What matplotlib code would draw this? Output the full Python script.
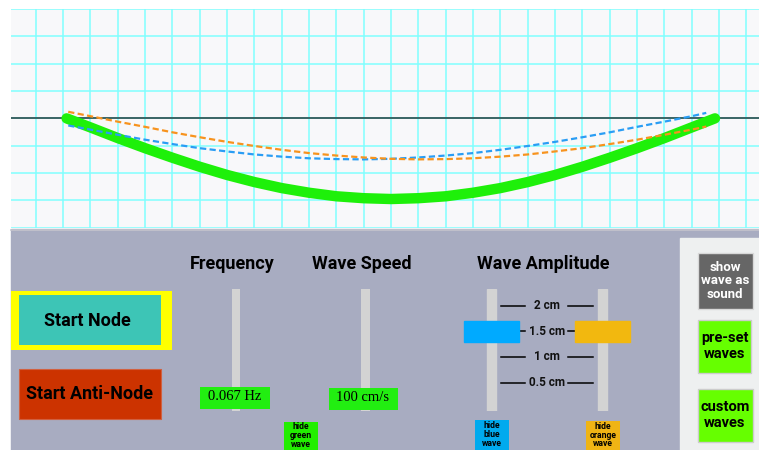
import matplotlib.pyplot as plt
from matplotlib.patches import Rectangle

# === Wave shapes on the grid (cm) ===
green_x = [1.13, 2, 3, 4, 5, 6, 7, 8, 9, 10, 11, 12, 13,
           14, 15, 16, 17, 18, 19, 20, 21, 22, 23, 24, 24.85]
green_y = [0.0, -0.33, -0.72, -1.09, -1.44, -1.77, -2.07, -2.33, -2.55, -2.72, -2.85, -2.92, -2.95,
           -2.92, -2.85, -2.72, -2.55, -2.33, -2.07, -1.77, -1.44, -1.09, -0.72, -0.33, 0.0]

dash_x = [1.19, 2, 3, 4, 5, 6, 7, 8, 9, 10, 11, 12, 13,
          14, 15, 16, 17, 18, 19, 20, 21, 22, 23, 24, 24.53]
blue_y = [-0.26, -0.41, -0.60, -0.78, -0.94, -1.09, -1.21, -1.32, -1.40, -1.46, -1.49, -1.50, -1.48,
          -1.43, -1.36, -1.27, -1.15, -1.01, -0.86, -0.69, -0.51, -0.31, -0.12, 0.08, 0.20]
orange_y = [0.24, 0.08, -0.12, -0.31, -0.51, -0.69, -0.86, -1.01, -1.15, -1.27, -1.36, -1.43, -1.48,
            -1.50, -1.49, -1.46, -1.40, -1.32, -1.21, -1.09, -0.94, -0.78, -0.60, -0.41, -0.30]

# === Control panel values ===
amp_ticks = [2, 1.5, 1, 0.5]
amp_labels = ["2 cm", "1.5 cm", "1 cm", "0.5 cm"]
blue_amp = 1.5
orange_amp = 1.5
freq_label = "0.067 Hz"
speed_label = "100 cm/s"

W, H = 759, 450
NARROW = ['Roboto', 'DejaVu Sans']
SERIF = ['Liberation Serif', 'DejaVu Serif']

fig = plt.figure(figsize=(W / 100, H / 100), dpi=100)
fig.patch.set_facecolor('white')


def px_axes(x0, y0, x1, y1):
    return fig.add_axes([x0 / W, 1 - y1 / H, (x1 - x0) / W, (y1 - y0) / H])


# === Panel / layout axes in pixel units ===
ui = px_axes(0, 0, W, H)
ui.set_xlim(0, W)
ui.set_ylim(H, 0)
ui.axis('off')

ui.add_patch(Rectangle((11, 229), W - 11, H - 229, color='#a8acc1', zorder=1))
ui.plot([11, W], [229.5, 229.5], color='#c4c4cc', lw=1.2, zorder=2)
ui.add_patch(Rectangle((680, 238), W - 680, H - 238, color='#eef0f0', zorder=2))


def box(x0, y0, x1, y1, fc, ec=None, lw=0):
    ui.add_patch(Rectangle((x0, y0), x1 - x0, y1 - y0, facecolor=fc,
                           edgecolor=ec if ec else fc, lw=lw, zorder=3))


def label(x, y, s, size, color='black', family=NARROW, weight='bold', ls=1.0):
    ui.text(x, y, s, ha='center', va='center', fontsize=size, color=color,
            family=family, fontweight=weight, linespacing=ls, zorder=5)


# start buttons
box(11, 290.5, 171.5, 350, '#ffff00')
box(18.5, 295, 160.5, 345, '#3dc5b6')
label(87, 321, "Start Node", 13)
box(18.5, 369, 160.5, 418.5, '#cc3300', ec='#d06040', lw=0.8)
label(90, 394, "Start Anti-Node", 13)

# headings
label(232.5, 264, "Frequency", 13)
label(362, 264, "Wave Speed", 13)
label(543, 264, "Wave Amplitude", 13)

# frequency and speed sliders
for tx in (231.5, 361):
    box(tx, 289, tx + 8.5, 410.5, '#d3d3d3')
box(200, 386.5, 269.5, 408.5, '#22ee11')
label(234.5, 396.5, freq_label, 10.5, family=SERIF, weight='normal')
box(328.5, 387.5, 397.5, 409.5, '#22ee11')
label(363, 397.5, speed_label, 10.5, family=SERIF, weight='normal')

# hide buttons
box(284, 422, 318, H, '#22ee00')
label(301, 435.5, "hide\ngreen\nwave", 6.2, ls=0.98)
box(474.5, 420, 508.5, H, '#00aaee')
label(491.5, 434.5, "hide\nblue\nwave", 6.2, ls=0.98)
box(586, 421, 619.5, H, '#f0b414')
label(603, 435, "hide\norange\nwave", 6.2, ls=0.98)

# right side buttons
box(697.5, 253, 752.5, 308.5, '#666666', ec='#d8d8d8', lw=1)
label(725, 281, "show\nwave as\nsound", 9.5, color='white', ls=1.05)
box(697.5, 319.5, 751, 372.5, '#66ff00', ec='#cccccc', lw=1)
label(724.5, 346, "pre-set\nwaves", 10.5, ls=1.1)
box(697.5, 388.5, 752.5, 442, '#66ff00', ec='#cccccc', lw=1)
label(725, 415, "custom\nwaves", 10.5, ls=1.1)

# === Amplitude sliders (y in cm) ===
amp = px_axes(460, 289, 635, 411)
amp.set_xlim(460, 635)
amp.set_ylim(-0.053, 2.324)
amp.axis('off')
amp.patch.set_alpha(0)
for tx in (486.7, 597.7):
    amp.add_patch(Rectangle((tx, -0.053), 9, 2.377, color='#d3d3d3', zorder=1))
for a, s in zip(amp_ticks, amp_labels):
    amp.plot([500.7, 525], [a, a], color='black', lw=1.1, zorder=2)
    amp.plot([568.3, 592.7], [a, a], color='black', lw=1.1, zorder=2)
    amp.text(546.7, a, s, ha='center', va='center', fontsize=8.5,
             family=NARROW, fontweight='bold', color='#111111', zorder=3)
amp.add_patch(Rectangle((464, blue_amp - 0.21), 55, 0.42, color='#00aaff', zorder=4))
amp.add_patch(Rectangle((575, orange_amp - 0.21), 54.5, 0.42, color='#f2b80f', zorder=4))

# === Wave grid ===
ax = px_axes(11, 9, W, 228)
ax.set_xlim(-0.904, 26.46)
ax.set_ylim(-4.01, 4.0)
ax.set_facecolor('#f8f8fa')
for s in ax.spines.values():
    s.set_visible(False)
ax.set_xticks([])
ax.set_yticks([])
for gx in range(0, 27):
    ax.axvline(gx, color='#80ffff', lw=1.1, zorder=1)
for gy in range(-4, 5):
    ax.axhline(gy, color='#80ffff', lw=1.1, zorder=1)
ax.axhline(0, color='#3b6464', lw=1.4, zorder=2)

ax.plot(green_x, green_y, color='#1ef00a', lw=7.5, solid_capstyle='round',
        solid_joinstyle='round', zorder=3)
ax.plot(dash_x, blue_y, color='#2a9df4', lw=1.6, dashes=(2.8, 1.5), zorder=4)
ax.plot(dash_x, orange_y, color='#f7931e', lw=1.6, dashes=(2.8, 1.5), zorder=4)

plt.savefig("out.png", dpi=100)
